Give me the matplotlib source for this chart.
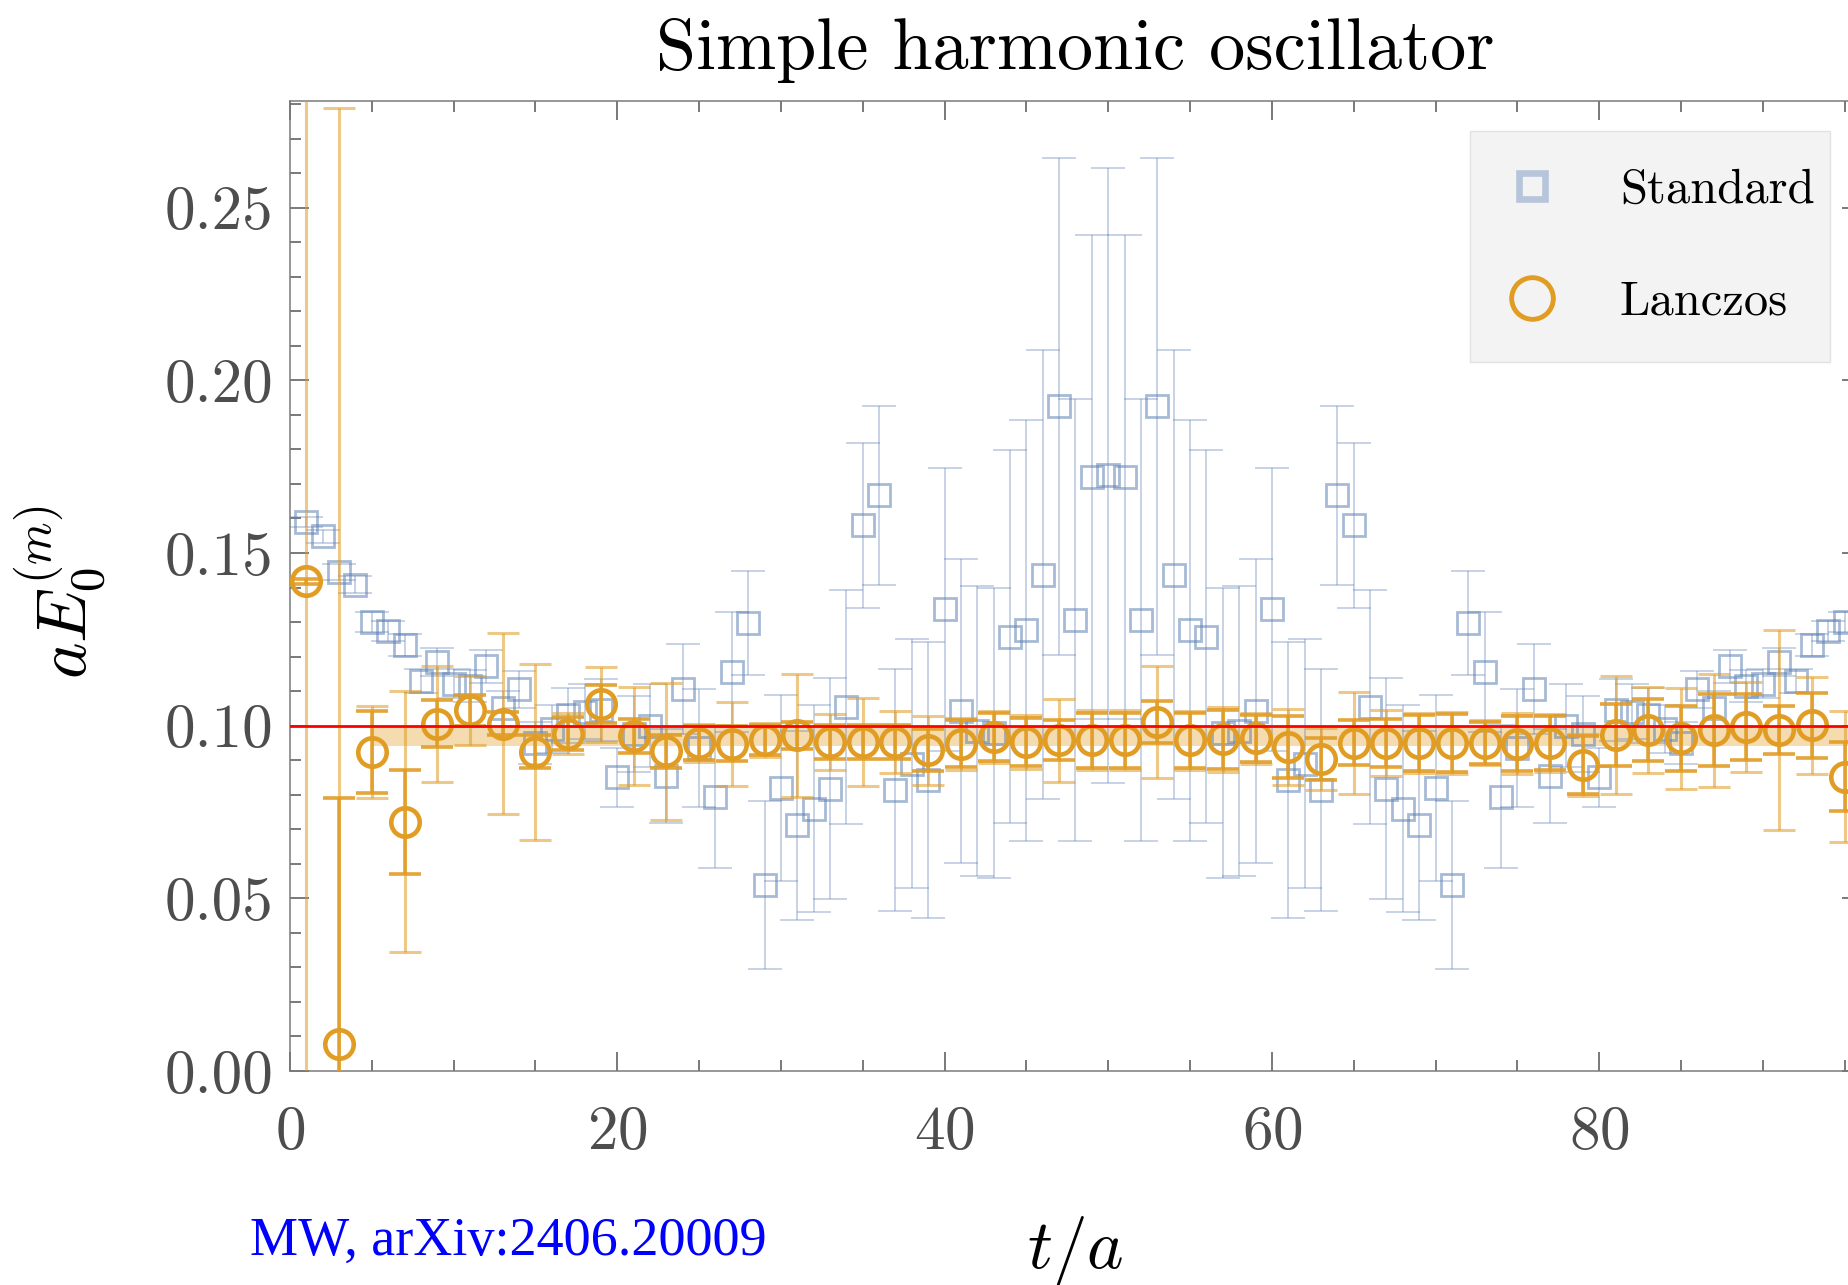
import numpy as np
import matplotlib
matplotlib.use("Agg")
import matplotlib.pyplot as plt
from matplotlib.lines import Line2D
from matplotlib.patches import Rectangle
from matplotlib.ticker import MultipleLocator, FormatStrFormatter

# Standard effective mass, every time slice t = 1..95
t_std = np.arange(1, 96)
e_std = [0.1590, 0.1548, 0.1445, 0.1408, 0.1300, 0.1274, 0.1233, 0.1129, 0.1185, 0.1122,
         0.1115, 0.1172, 0.1050, 0.1105, 0.0950, 0.0990, 0.1030, 0.1040, 0.1045, 0.0850,
         0.0975, 0.1000, 0.0854, 0.1107, 0.0935, 0.0794, 0.1156, 0.1297, 0.0538, 0.0820,
         0.0711, 0.0760, 0.0818, 0.1054, 0.1580, 0.1667, 0.0813, 0.0890, 0.0843, 0.1337,
         0.1043, 0.0984, 0.0979, 0.1258, 0.1276, 0.1437, 0.1925, 0.1305, 0.1720, 0.1725,
         0.1720, 0.1305, 0.1925, 0.1437, 0.1276, 0.1258, 0.0979, 0.0984, 0.1043, 0.1337,
         0.0843, 0.0890, 0.0813, 0.1667, 0.1580, 0.1054, 0.0818, 0.0760, 0.0711, 0.0820,
         0.0538, 0.1297, 0.1156, 0.0794, 0.0935, 0.1107, 0.0854, 0.1000, 0.0975, 0.0850,
         0.1045, 0.1040, 0.1030, 0.0990, 0.0950, 0.1105, 0.1050, 0.1172, 0.1115, 0.1122,
         0.1185, 0.1129, 0.1233, 0.1274, 0.1300]
err_std = [0.0015, 0.0020, 0.0022, 0.0025, 0.0028, 0.0030, 0.0032, 0.0035, 0.0040, 0.0042,
           0.0045, 0.0048, 0.0050, 0.0053, 0.0060, 0.0070, 0.0080, 0.0080, 0.0090, 0.0085,
           0.0110, 0.0120, 0.0137, 0.0130, 0.0170, 0.0207, 0.0173, 0.0150, 0.0243, 0.0270,
           0.0275, 0.0300, 0.0320, 0.0340, 0.0240, 0.0260, 0.0350, 0.0360, 0.0400, 0.0410,
           0.0440, 0.0420, 0.0420, 0.0540, 0.0610, 0.0650, 0.0720, 0.0640, 0.0700, 0.0890,
           0.0700, 0.0640, 0.0720, 0.0650, 0.0610, 0.0540, 0.0420, 0.0420, 0.0440, 0.0410,
           0.0400, 0.0360, 0.0350, 0.0260, 0.0240, 0.0340, 0.0320, 0.0300, 0.0275, 0.0270,
           0.0243, 0.0150, 0.0173, 0.0207, 0.0170, 0.0130, 0.0137, 0.0120, 0.0110, 0.0085,
           0.0090, 0.0080, 0.0080, 0.0070, 0.0060, 0.0053, 0.0050, 0.0048, 0.0045, 0.0042,
           0.0040, 0.0035, 0.0032, 0.0030, 0.0028]

# Lanczos, odd time slices t = 1..95
t_lz = np.arange(1, 96, 2)
e_lz = [0.1418, 0.0078, 0.0924, 0.0722, 0.1006, 0.1044, 0.1006, 0.0924, 0.0977, 0.1062,
        0.0970, 0.0926, 0.0950, 0.0948, 0.0958, 0.0972, 0.0953, 0.0953, 0.0953, 0.0929,
        0.0948, 0.0968, 0.0953, 0.0958, 0.0958, 0.0958, 0.1011, 0.0958, 0.0960, 0.0963,
        0.0939, 0.0903, 0.0950, 0.0949, 0.0950, 0.0950, 0.0950, 0.0948, 0.0950, 0.0886,
        0.0973, 0.0987, 0.0963, 0.0987, 0.0997, 0.0987, 0.1001, 0.0852]
err_lz_in = [0.0008, 0.0713, 0.0118, 0.0151, 0.0069, 0.0046, 0.0034, 0.0048, 0.0048, 0.0055,
             0.0048, 0.0048, 0.0048, 0.0050, 0.0044, 0.0040, 0.0050, 0.0050, 0.0050, 0.0060,
             0.0068, 0.0070, 0.0070, 0.0057, 0.0080, 0.0080, 0.0060, 0.0080, 0.0085, 0.0068,
             0.0090, 0.0060, 0.0065, 0.0070, 0.0080, 0.0085, 0.0060, 0.0080, 0.0078, 0.0085,
             0.0090, 0.0090, 0.0095, 0.0105, 0.0095, 0.0070, 0.0095, 0.0100]
err_lz_out = [0.3000, 0.2711, 0.0133, 0.0378, 0.0168, 0.0100, 0.0261, 0.0256, 0.0060, 0.0108,
              0.0143, 0.0198, 0.0055, 0.0122, 0.0050, 0.0178, 0.0080, 0.0127, 0.0090, 0.0100,
              0.0075, 0.0075, 0.0078, 0.0120, 0.0087, 0.0087, 0.0162, 0.0085, 0.0093, 0.0073,
              0.0110, 0.0090, 0.0147, 0.0095, 0.0086, 0.0090, 0.0065, 0.0088, 0.0083, 0.0090,
              0.0170, 0.0125, 0.0145, 0.0164, 0.0130, 0.0290, 0.0140, 0.0190]

# fit band and exact value
fit_range = [5, 96]
fit_lo, fit_hi = 0.0941, 0.0997
exact = 0.1

blue = '#5E81B5'
orange = '#E19C24'

plt.rcParams['font.family'] = ['cmr10', 'DejaVu Serif']
plt.rcParams['mathtext.fontset'] = 'cm'
plt.rcParams['axes.formatter.use_mathtext'] = True

W, H = 1848, 1285
fig = plt.figure(figsize=(W / 100, H / 100), dpi=100)
# axes run a little past the right edge of the picture, as in the original crop
ax = fig.add_axes([0.15693, 0.16654, 0.85010, 0.75486])

ax.fill_between(fit_range, fit_lo, fit_hi, color=orange, alpha=0.36, lw=0, zorder=1)

ax.errorbar(t_std, e_std, yerr=err_std, fmt='none', ecolor=blue, elinewidth=1.4,
            capsize=12, capthick=1.4, alpha=0.35, zorder=2)
ax.plot(t_std, e_std, ls='none', marker='s', ms=16.3, mfc='none', mec=blue, mew=2.0,
        alpha=0.55, zorder=3)

ax.errorbar(t_lz, e_lz, yerr=err_lz_out, fmt='none', ecolor=orange, elinewidth=2.2,
            capsize=11.5, capthick=2.2, alpha=0.55, zorder=4)
ax.errorbar(t_lz, e_lz, yerr=err_lz_in, fmt='none', ecolor=orange, elinewidth=2.6,
            capsize=11.5, capthick=2.6, alpha=0.9, zorder=5)
ax.plot(t_lz, e_lz, ls='none', marker='o', ms=20.5, mfc='none', mec=orange, mew=3.3,
        zorder=6)

ax.axhline(exact, color='red', lw=2.0, zorder=7)

ax.set_xlim(0, 96)
ax.set_ylim(0, 0.2809)

ax.xaxis.set_major_locator(MultipleLocator(20))
ax.xaxis.set_minor_locator(MultipleLocator(5))
ax.yaxis.set_major_locator(MultipleLocator(0.05))
ax.yaxis.set_minor_locator(MultipleLocator(0.01))
ax.yaxis.set_major_formatter(FormatStrFormatter('%.2f'))

tick_col = '#555555'
ax.tick_params(which='both', direction='in', top=True, right=True, color=tick_col,
               width=1.1, labelcolor='#4d4d4d', labelsize=44)
ax.tick_params(which='major', length=13.7)
ax.tick_params(which='minor', length=8)
ax.tick_params(axis='x', pad=25)
ax.tick_params(axis='y', pad=12)
for s in ax.spines.values():
    s.set_color('#7a7a7a')
    s.set_linewidth(1.1)

ax.set_title('Simple harmonic oscillator', fontsize=52, pad=23)
ax.set_ylabel(r'$aE_0^{(m)}$', fontsize=50)
ax.yaxis.set_label_coords(-0.1159, 0.494)
ax.set_xlabel(r'$t/a$', fontsize=50)
ax.xaxis.set_label_coords(0.5, -0.1474)

# legend background box (pixel box of the original legend frame)
box = Rectangle((1470 / W, 1 - 362 / H), 360 / W, 231.3 / H, transform=fig.transFigure,
                facecolor='#f3f3f3', edgecolor='#e2e2e2', lw=1.0, zorder=9)
ax.add_patch(box)
box.set_clip_on(False)

handles = [
    Line2D([], [], ls='none', marker='s', ms=18.5, mfc='none', mec=blue, mew=4.8, alpha=0.4),
    Line2D([], [], ls='none', marker='o', ms=30, mfc='none', mec=orange, mew=3.5),
]
leg = ax.legend(handles, ['Standard', 'Lanczos'], loc='upper left',
                bbox_to_anchor=(1507.5 / W, 1 - 168.5 / H),
                bbox_transform=fig.transFigure, fontsize=35, frameon=False,
                borderpad=0, handlelength=1.0, handletextpad=1.31,
                labelspacing=1.39, borderaxespad=0)
leg.set_zorder(10)

fig.text(250 / W, 1 - 1255 / H, 'MW, arXiv:2406.20009', color='blue',
         fontsize=39, family='Liberation Serif', va='baseline')

fig.savefig('out.png', dpi=100)
